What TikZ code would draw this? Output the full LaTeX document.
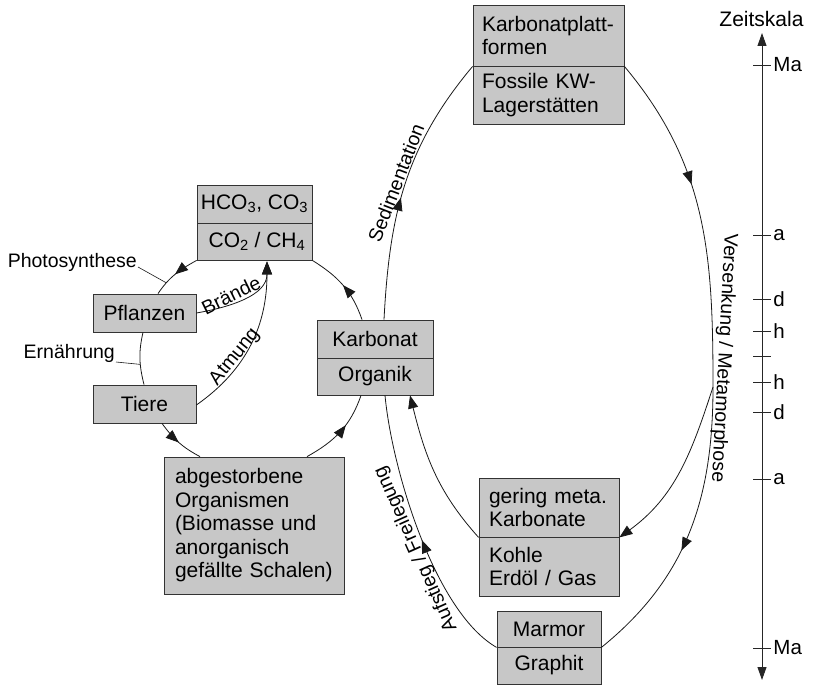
\documentclass[tikz,border=0pt]{standalone}
\usepackage{fontspec}
\setmainfont{Liberation Sans}
\usetikzlibrary{arrows.meta,decorations.markings}
\definecolor{boxgray}{RGB}{199,199,199}
\newcommand\bxfont{\fontsize{21}{23.5}\selectfont}
\newcommand\lbfont{\fontsize{19.5}{22}\selectfont}
\newcommand\tkfont{\fontsize{20.5}{23}\selectfont}
\begin{document}
\begin{tikzpicture}[x=1pt,y=1pt,
  box/.style={draw=black!80, fill=boxgray, line width=0.8pt, inner sep=0pt, font=\bxfont, align=center},
  lbox/.style={box, align=left, inner xsep=#1},
  lbl/.style={font=\lbfont, inner sep=1pt},
  conn/.style={line width=0.8pt, draw=black!90},
  endarr/.style={-{Triangle[length=13pt,width=10pt]}},
  marr/.style={postaction={decorate}, decoration={markings, mark=at position #1 with {\arrow{Triangle[length=13pt,width=10pt]}}}},
  axisline/.style={line width=0.9pt, draw=black!85},
]
\useasboundingbox (0,0) rectangle (814,-685);

% boxes
\node[box, minimum width=115pt, minimum height=38pt] (co3) at (254.5,-204) {HCO\textsubscript{3}, CO\textsubscript{3}};
\node[box, minimum width=115pt, minimum height=37pt] (co2) at (254.5,-241.5) {\hspace*{5pt}CO\textsubscript{2} / CH\textsubscript{4}};
\node[box, minimum width=103pt, minimum height=38pt] (pfl) at (144.5,-313) {Pflanzen};
\node[box, minimum width=103pt, minimum height=38pt] (tiere) at (144.5,-404) {Tiere};
\node[box, minimum width=116pt, minimum height=38pt] (karb) at (375,-339) {Karbonat};
\node[box, minimum width=116pt, minimum height=37pt] (org) at (375,-376.5) {Organik};
\node[lbox=11pt, text width=158pt, minimum height=137pt] (abg) at (254,-525.5) {abgestorbene\\Organismen\\(Biomasse und\\anorganisch\\gefällte Schalen)};
\node[lbox=9pt, text width=133pt, minimum height=61pt] (plat) at (548.5,-35.5) {Karbonatplatt-\\formen};
\node[lbox=9pt, text width=133pt, minimum height=58pt] (foss) at (548.5,-95) {Fossile KW-\\Lagerstätten};
\node[lbox=10pt, text width=120pt, minimum height=59pt] (ger) at (549,-507.5) {gering meta.\\Karbonate};
\node[lbox=10pt, text width=120pt, minimum height=59pt] (kohle) at (549,-566.5) {Kohle\\Erdöl / Gas};
\node[box, minimum width=104pt, minimum height=36pt] (marm) at (549,-629) {Marmor};
\node[box, minimum width=104pt, minimum height=37pt] (graph) at (549,-665.5) {Graphit};

% small cycle
\draw[conn, marr=0.5] (co2.south west) to[out=209,in=56] coordinate[pos=0.75] (phpt) ([xshift=13.5pt]pfl.north);
\draw[conn] ([xshift=-1.5pt]pfl.south) to[out=257,in=104] coordinate[pos=0.62] (ernpt) ([xshift=-0.5pt]tiere.north);
\draw[conn, marr=0.5] ([xshift=17.5pt]tiere.south) to[out=306,in=152] ([xshift=-54pt]abg.north);
\draw[conn, marr=0.6] ([xshift=53pt]abg.north) to[out=29,in=251] ([xshift=-14pt]org.south);
\draw[conn, marr=0.5] ([xshift=-13pt]karb.north) to[out=109,in=328] (co2.south east);

\coordinate (co2tip) at ([xshift=12.5pt,yshift=-1pt]co2.south);
\draw[conn, endarr] (pfl.east) to[out=10,in=270] (co2tip);
\draw[conn, endarr] ([yshift=-1pt]tiere.east) to[out=35,in=270] (co2tip);

\node[lbl, rotate=26] (braende) at (231,-295) {Brände};
\node[lbl, rotate=51] (atm) at (235,-357) {Atmung};
\node[lbl, anchor=east] (photo) at (138,-262) {Photosynthese};
\draw[conn, line width=0.6pt] ([yshift=-5pt]photo.east) -- (phpt);
\node[lbl, anchor=east] (ern) at (116,-353) {Ernährung};
\draw[conn, line width=0.6pt] ([yshift=-9pt]ern.east) -- (ernpt);

% big loop
\coordinate (split) at (713,-387);
\draw[conn, marr=0.45] ([xshift=9pt]karb.north) to[out=87,in=230] (plat.south west);
\draw[conn, marr=0.4] (plat.south east) to[out=-50,in=90] (split);
\draw[conn, marr=0.57] (split) to[out=270,in=39] (marm.south east);
\draw[conn, endarr] (split) to[out=252,in=36] (ger.south east);
\draw[conn, marr=0.47] (marm.south west) .. controls (435,-612) and (392,-470) .. ([xshift=10pt]org.south);
\draw[conn, endarr] (ger.south west) to[out=132,in=-76] ([xshift=35pt]org.south);

\node[lbl, rotate=69] (sed) at (396,-183) {Sedimentation};
\node[lbl, rotate=-93] (vers) at (723.5,-358) {Versenkung / Metamorphose};
\node[lbl, rotate=114] (auf) at (416,-549) {Aufstieg / Freilegung};

% time scale
\coordinate (ztop) at (762,-33);
\coordinate (zbot) at (762,-680);
\draw[axisline, {Triangle[length=13pt,width=9pt]}-{Triangle[length=13pt,width=9pt]}] (zbot) -- (ztop);
\node[font=\bxfont, inner sep=0pt] (zeit) at (761.5,-19) {Zeitskala};
\foreach \yy/\tl in {65/Ma,235/a,299/d,331/h,356/{},382/h,412/d,479/a,648/Ma} {
  \draw[axisline] (753,-\yy) -- (771,-\yy) node[right, font=\tkfont, inner sep=2pt] {\tl};
}
\end{tikzpicture}
\end{document}
